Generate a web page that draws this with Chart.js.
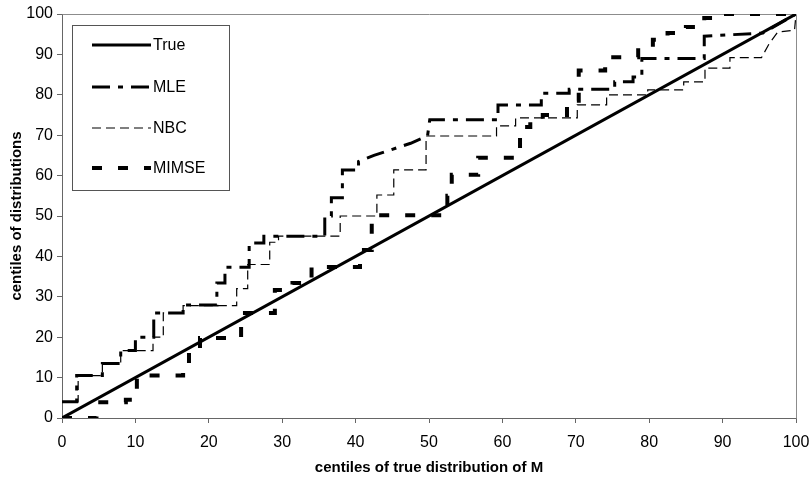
<!DOCTYPE html>
<html>
<head>
<meta charset="utf-8">
<script src="https://cdn.jsdelivr.net/npm/chart.js@4.4.1/dist/chart.umd.min.js"></script>
<style>
  html, body { margin: 0; padding: 0; background: #fff; }
  #wrap { width: 812px; height: 484px; }
</style>
</head>
<body>
<div id="wrap"><canvas id="centiles"></canvas></div>
<script>
const xTicks = [0, 10, 20, 30, 40, 50, 60, 70, 80, 90, 100];
const yTicks = [0, 10, 20, 30, 40, 50, 60, 70, 80, 90, 100];

const seriesNames = ['True', 'MLE', 'NBC', 'MIMSE'];

const trueX = [0, 100];
const trueY = [0, 100];

const mleX = [0, 2, 2, 5.5, 5.5, 8, 8, 10, 10, 12.5, 12.5, 16.5, 16.5, 21.1, 21.1, 22.2, 22.2, 25.5, 25.5, 27.5, 27.5,
  35.8, 35.8, 36.7, 36.7, 38.2, 38.2, 40.4, 40.4, 42.5, 45, 47.5, 49.8, 50.1, 59.4, 59.4, 65.3, 65.3, 69.1, 69.1,
  75.3, 75.3, 77.8, 77.8, 79, 79, 87.5, 87.5, 95.5, 100];
const mleY = [4, 4, 10.5, 10.5, 13.5, 13.5, 16.7, 16.7, 20, 20, 26, 26, 28, 28, 33.4, 33.4, 37.3, 37.3, 43.3, 43.3, 45,
  45, 50, 50, 54.5, 54.5, 61.4, 61.4, 63.5, 65, 66.5, 68, 69.8, 73.8, 73.8, 77.5, 77.5, 80.4, 80.4, 81.4,
  81.4, 83.2, 83.2, 84.4, 84.4, 89, 89, 94.5, 95.3, 100];

const nbcX = [0, 2.2, 2.2, 5.5, 5.5, 8, 8, 12.4, 12.4, 13.8, 13.8, 16.5, 16.5, 23.8, 23.8, 25.3, 25.3, 28.3, 28.3, 29.5, 29.5,
  37.9, 37.9, 42.9, 42.9, 45.2, 45.2, 49.6, 49.6, 59.2, 59.2, 61.8, 61.8, 70.2, 70.2, 74.2, 74.2, 79.8, 79.8,
  84.7, 84.7, 87.6, 87.6, 91, 91, 95.3, 96.3, 97.5, 99.8, 100];
const nbcY = [4, 4, 10.5, 10.5, 13.5, 13.5, 16.7, 16.7, 20, 20, 26, 26, 27.8, 27.8, 32, 32, 38, 38, 43.5, 43.5, 45,
  45, 50, 50, 55.2, 55.2, 61.4, 61.4, 69.8, 69.8, 72.3, 72.3, 74.3, 74.3, 77.5, 77.5, 80, 80, 81.2,
  81.2, 83.2, 83.2, 86.6, 86.6, 89.2, 89.2, 92.5, 95.5, 96, 100];

const mimseX = [0, 4.7, 4.7, 8.7, 8.7, 10.2, 10.2, 16.5, 16.5, 17.3, 17.3, 18.8, 18.8, 24.4, 24.4, 29, 29, 31.4, 31.4,
  34, 34, 40.6, 40.6, 42.2, 42.2, 52.5, 52.5, 53.1, 53.1, 56.7, 56.7, 62.4, 62.4, 63.8, 63.8, 65.5, 65.5, 68.8, 68.8,
  70.4, 70.4, 74, 74, 78.5, 78.5, 80.5, 80.5, 82.5, 82.5, 85, 85, 87.5, 87.5, 89, 89, 100];
const mimseY = [0, 0, 3.9, 3.9, 4.5, 4.5, 10.5, 10.5, 13, 13, 17, 17, 19.8, 19.8, 26, 26, 31.7, 31.7, 33.4,
  33.4, 37.4, 37.4, 41.6, 41.6, 50.2, 50.2, 55, 55, 60.2, 60.2, 64.4, 64.4, 72, 72, 74, 74, 75, 75, 78.5,
  78.5, 86, 86, 89.3, 89.3, 91.6, 91.6, 93.6, 93.6, 95.3, 95.3, 96.8, 96.8, 99, 99, 100, 100];

const FONT = "'Liberation Sans', Arial, sans-serif";

function toPoints(xs, ys) {
  return xs.map((x, i) => ({ x: x, y: ys[i] }));
}

function line(label, xs, ys, width, dash) {
  return {
    label: label,
    data: toPoints(xs, ys),
    showLine: true,
    borderColor: '#000',
    backgroundColor: '#000',
    borderWidth: width,
    borderDash: dash,
    borderCapStyle: 'butt',
    borderJoinStyle: 'miter',
    pointRadius: 0,
    fill: false,
    tension: 0
  };
}

// grey frame round the plot area
const frame = {
  id: 'frame',
  beforeDatasetsDraw(chart) {
    const a = chart.chartArea;
    const c = chart.ctx;
    c.save();
    c.strokeStyle = '#8c8c8c';
    c.lineWidth = 1;
    c.beginPath();
    c.moveTo(Math.round(a.left) + 0.5, Math.round(a.top) + 0.5);
    c.lineTo(Math.round(a.right) + 0.5, Math.round(a.top) + 0.5);
    c.lineTo(Math.round(a.right) + 0.5, Math.round(a.bottom) + 0.5);
    c.stroke();
    c.restore();
  }
};

// legend box in the top left corner, styles taken from the datasets
const boxLegend = {
  id: 'boxLegend',
  afterDraw(chart) {
    const c = chart.ctx;
    c.save();
    c.fillStyle = '#fff';
    c.fillRect(72, 25, 157, 165);
    c.strokeStyle = '#555';
    c.lineWidth = 1;
    c.strokeRect(72.5, 25.5, 157, 165);
    const rows = [45, 87, 128, 168];
    chart.data.datasets.forEach((ds, i) => {
      const y = rows[i];
      c.strokeStyle = ds.borderColor;
      c.lineWidth = ds.borderWidth;
      c.lineCap = 'butt';
      c.setLineDash(ds.borderDash || []);
      c.beginPath();
      c.moveTo(92, y);
      c.lineTo(151, y);
      c.stroke();
      c.setLineDash([]);
      c.fillStyle = '#000';
      c.font = '16px ' + FONT;
      c.textBaseline = 'middle';
      c.fillText(ds.label, 153, y + 1);
    });
    c.restore();
  }
};

new Chart(document.getElementById('centiles'), {
  type: 'scatter',
  data: {
    datasets: [
      line(seriesNames[0], trueX, trueY, 3, []),
      line(seriesNames[1], mleX, mleY, 3, [18, 8, 5, 8]),
      line(seriesNames[2], nbcX, nbcY, 1.2, [9, 5]),
      line(seriesNames[3], mimseX, mimseY, 4, [10, 16])
    ]
  },
  options: {
    responsive: true,
    maintainAspectRatio: false,
    animation: false,
    layout: { padding: { top: 14, right: 16, left: 0, bottom: 0 } },
    plugins: {
      legend: { display: false },
      tooltip: { enabled: false }
    },
    scales: {
      x: {
        type: 'linear',
        min: 0,
        max: 100,
        afterBuildTicks: (s) => { s.ticks = xTicks.map(v => ({ value: v })); },
        afterFit: (s) => { s.height = 66; s.paddingLeft = 0; s.paddingRight = 0; },
        grid: { drawOnChartArea: false, drawTicks: true, tickLength: 5, color: '#666' },
        border: { color: '#666', width: 1 },
        ticks: { color: '#000', font: { family: FONT, size: 16 }, padding: 10, maxRotation: 0 },
        title: {
          display: true,
          text: 'centiles of true distribution of M',
          color: '#000',
          font: { family: FONT, size: 15, weight: 'bold' },
          padding: { top: 0, bottom: 7 }
        }
      },
      y: {
        type: 'linear',
        min: 0,
        max: 100,
        afterBuildTicks: (s) => { s.ticks = yTicks.map(v => ({ value: v })); },
        afterFit: (s) => { s.width = 62; s.paddingTop = 0; s.paddingBottom = 0; },
        grid: { drawOnChartArea: false, drawTicks: true, tickLength: 5, color: '#666' },
        border: { color: '#666', width: 1 },
        ticks: { color: '#000', font: { family: FONT, size: 16 }, padding: 4 },
        title: {
          display: true,
          text: 'centiles of distributions',
          color: '#000',
          font: { family: FONT, size: 15, weight: 'bold' },
          padding: { top: 8, bottom: 0 }
        }
      }
    }
  },
  plugins: [frame, boxLegend]
});
</script>
</body>
</html>
